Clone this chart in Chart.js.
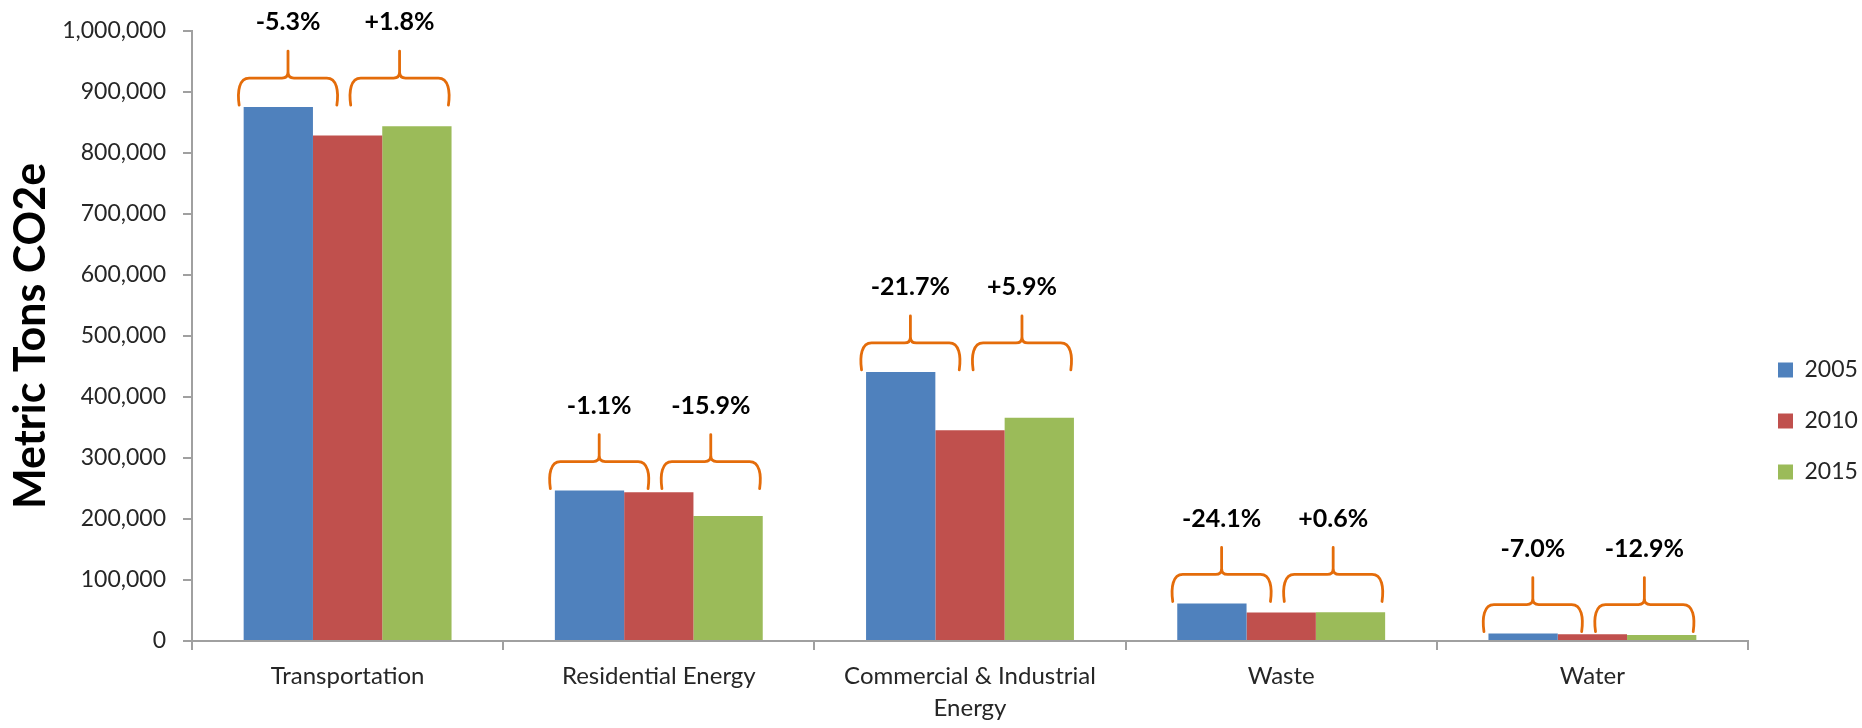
<!DOCTYPE html>
<html>
<head>
<meta charset="utf-8">
<script src="https://cdn.jsdelivr.net/npm/chart.js@4.4.1/dist/chart.umd.min.js"></script>
<style>
  html, body { margin: 0; padding: 0; background: #fff; }
  #wrap { width: 1862px; height: 728px; position: relative; }
</style>
</head>
<body>
<div id="wrap"><canvas id="c"></canvas></div>
<script>
/* ── data ── */
const categories = ['Transportation', 'Residential Energy', ['Commercial & Industrial', 'Energy'], 'Waste', 'Water'];
const years = ['2005', '2010', '2015'];
const values2005 = [875000, 246500, 441000, 61500, 12100];
const values2010 = [828600, 243800, 345300, 46700, 11250];
const values2015 = [843500, 205000, 365700, 47000, 9800];
const change0510 = ['-5.3%', '-1.1%', '-21.7%', '-24.1%', '-7.0%'];
const change1015 = ['+1.8%', '-15.9%', '+5.9%', '+0.6%', '-12.9%'];
const yMin = 0, yMax = 1000000, yStep = 100000;

const COLORS = ['#4F81BD', '#C0504D', '#9BBB59'];
const BRACE = '#E46C0A';
const AXIS = '#a0a0a0';
const FONT = "Lato, 'Open Sans', sans-serif";

Chart.defaults.font.family = FONT;
Chart.defaults.color = '#333';

/* ── curly brace + % label over each pair of bars ── */
function drawBrace(ctx, x0, x1, yb) {
  const xc = (x0 + x1) / 2;
  const yh = yb - 27, yt = yh - 27, r = 10, rc = 6;
  ctx.beginPath();
  ctx.moveTo(x0, yb);
  ctx.bezierCurveTo(x0 - 2, yb - 14, x0, yh, x0 + r, yh);
  ctx.lineTo(xc - rc, yh);
  ctx.quadraticCurveTo(xc, yh, xc, yh - rc);
  ctx.lineTo(xc, yt);
  ctx.moveTo(xc, yh - rc);
  ctx.quadraticCurveTo(xc, yh, xc + rc, yh);
  ctx.lineTo(x1 - r, yh);
  ctx.bezierCurveTo(x1, yh, x1 + 2, yb - 14, x1, yb);
  ctx.stroke();
  return { xc: xc, yt: yt };
}

const bracePlugin = {
  id: 'braces',
  afterDatasetsDraw(chart) {
    const ctx = chart.ctx;
    const y = chart.scales.y;
    const m0 = chart.getDatasetMeta(0).data;
    const m2 = chart.getDatasetMeta(2).data;
    ctx.save();
    ctx.strokeStyle = BRACE;
    ctx.lineWidth = 2.8;
    ctx.lineJoin = 'round';
    ctx.lineCap = 'round';
    ctx.fillStyle = '#000';
    ctx.font = 'bold 25px ' + FONT;
    ctx.textAlign = 'center';
    ctx.textBaseline = 'middle';
    categories.forEach((c, i) => {
      const bw = m0[i].width;
      const top = y.getPixelForValue(Math.max(values2005[i], values2010[i], values2015[i]));
      const yb = top - 2;
      const c1 = m0[i].x + 0.14 * bw, c2 = m2[i].x - 0.25 * bw, hw = 0.705 * bw;
      const b1 = drawBrace(ctx, c1 - hw, c1 + hw, yb);
      const b2 = drawBrace(ctx, c2 - hw, c2 + hw, yb);
      ctx.fillText(change0510[i], b1.xc, b1.yt - 29);
      ctx.fillText(change1015[i], b2.xc, b2.yt - 29);
    });
    ctx.restore();
  }
};

const series = [values2005, values2010, values2015];

new Chart(document.getElementById('c'), {
  type: 'bar',
  data: {
    labels: categories,
    datasets: years.map((yr, i) => ({
      label: yr,
      data: series[i],
      backgroundColor: COLORS[i],
      borderWidth: 0,
      categoryPercentage: 0.668,
      barPercentage: 1.0,
      yAxisID: 'y'
    }))
  },
  options: {
    responsive: true,
    maintainAspectRatio: false,
    animation: false,
    layout: { padding: { top: 23, left: 0, right: 4, bottom: 0 } },
    scales: {
      x: {
        offset: true,
        grid: { display: true, drawOnChartArea: false, drawTicks: true, tickLength: 9, color: AXIS, lineWidth: 2, offset: true },
        border: { display: true, color: AXIS, width: 2 },
        ticks: { font: { size: 24, lineHeight: 1.33 }, color: '#262626', padding: 10, maxRotation: 0, autoSkip: false },
        afterFit(s) { s.height = 87; }
      },
      y: {
        min: yMin, max: yMax,
        grid: { display: true, drawOnChartArea: false, drawTicks: true, tickLength: 9, color: AXIS, lineWidth: 2 },
        border: { display: true, color: AXIS, width: 2 },
        ticks: {
          stepSize: yStep,
          font: { size: 23 },
          color: '#262626',
          padding: 17,
          callback: v => v.toLocaleString('en-US')
        },
        title: {
          display: true,
          text: 'Metric Tons CO2e',
          color: '#000',
          font: { size: 43, weight: 'bold', lineHeight: 1.2 },
          padding: { top: 5, bottom: 0 }
        },
        afterFit(s) { s.width = 192; }
      },
      pad: {
        type: 'linear',
        position: 'right',
        display: true,
        grid: { display: false },
        border: { display: false },
        ticks: { display: false },
        afterFit(s) { s.width = 2; }
      }
    },
    plugins: {
      legend: {
        position: 'right',
        align: 'center',
        maxWidth: 108,
        title: { display: true, text: ' ', font: { size: 10, lineHeight: 1 }, padding: { top: 81, bottom: 0 } },
        labels: { boxWidth: 15, boxHeight: 15, padding: 28, color: '#262626', font: { size: 23 } }
      },
      tooltip: { enabled: false }
    }
  },
  plugins: [bracePlugin]
});
</script>
</body>
</html>
